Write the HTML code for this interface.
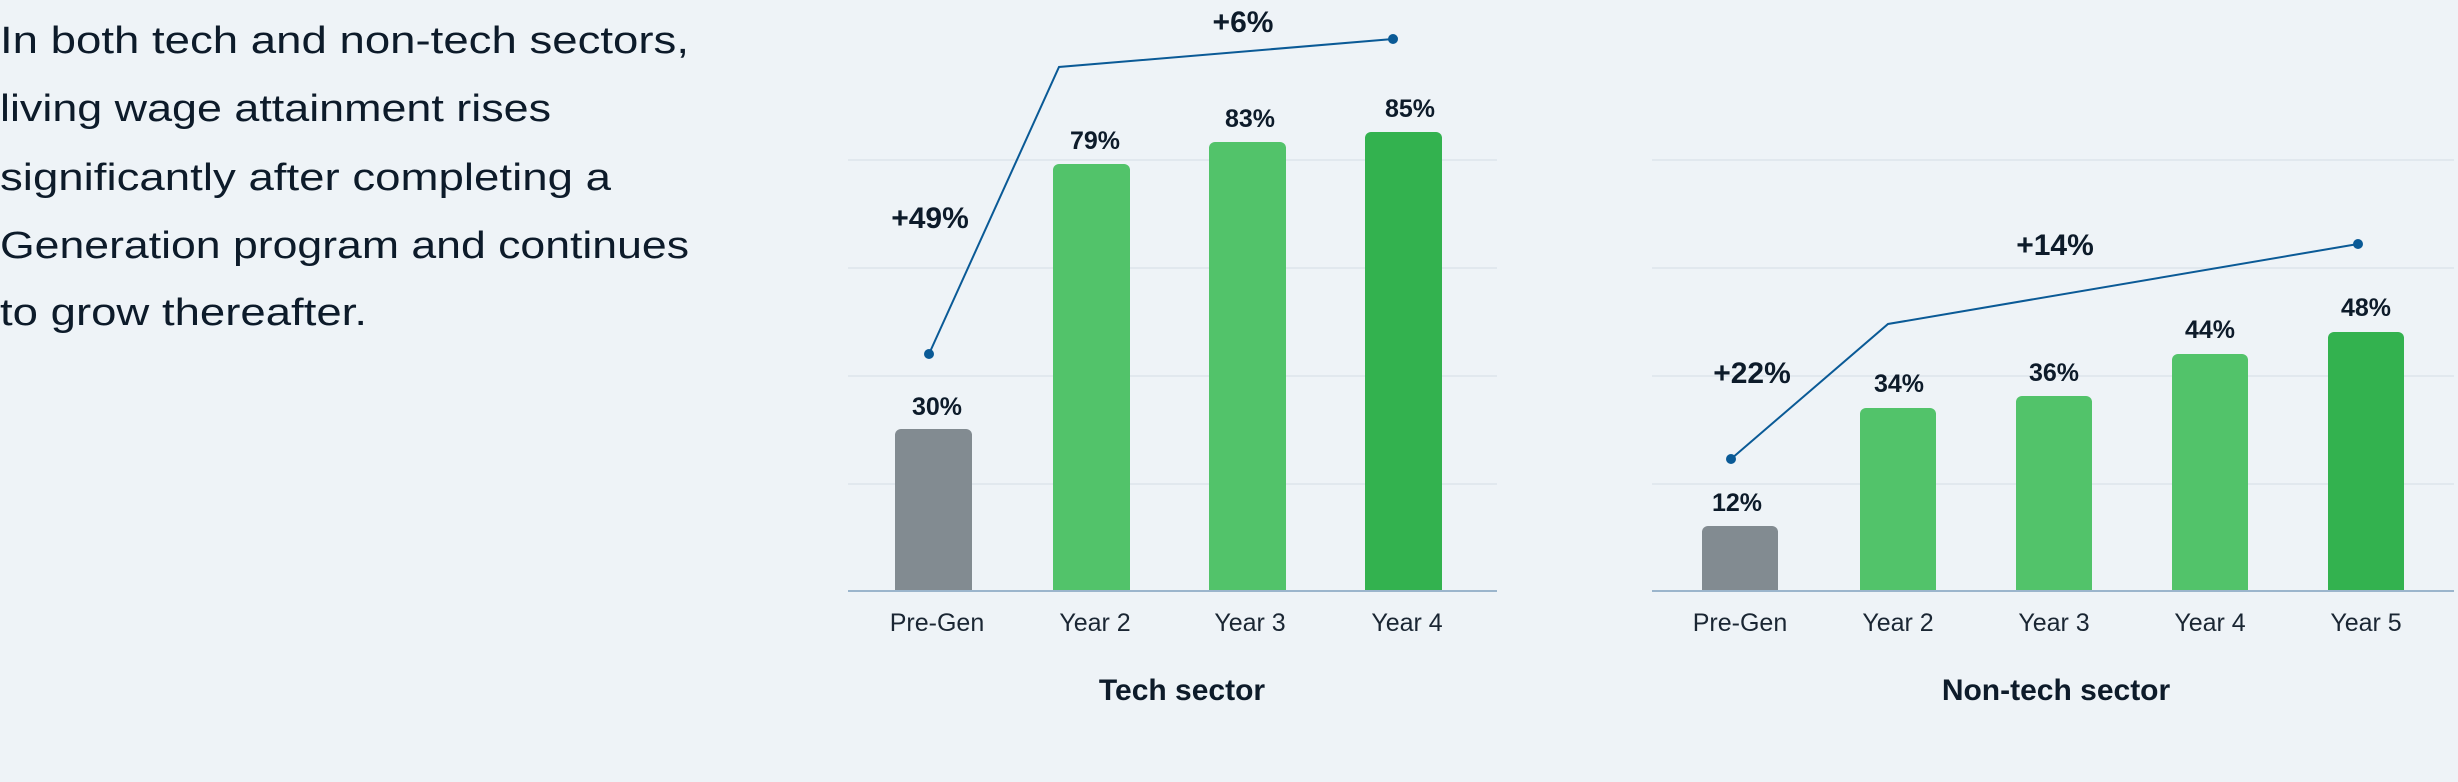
<!DOCTYPE html>
<html><head><meta charset="utf-8"><style>
html,body{margin:0;padding:0;background:#eef3f7;}
svg{display:block;}
</style></head><body>
<svg width="2458" height="782" viewBox="0 0 2458 782" xmlns="http://www.w3.org/2000/svg">
<rect width="2458" height="782" fill="#eef3f7"/>
<g font-family="Liberation Sans, sans-serif" font-size="38" fill="#0d1b2a">
<text x="0" y="53" textLength="689" lengthAdjust="spacingAndGlyphs">In both tech and non-tech sectors,</text>
<text x="0" y="121" textLength="551" lengthAdjust="spacingAndGlyphs">living wage attainment rises</text>
<text x="0" y="190" textLength="611" lengthAdjust="spacingAndGlyphs">significantly after completing a</text>
<text x="0" y="258" textLength="689" lengthAdjust="spacingAndGlyphs">Generation program and continues</text>
<text x="0" y="325" textLength="367" lengthAdjust="spacingAndGlyphs">to grow thereafter.</text>
</g>
<!-- gridlines -->
<g stroke="#e1e8ee" stroke-width="2">
<line x1="848" y1="160" x2="1497" y2="160"/><line x1="848" y1="268" x2="1497" y2="268"/>
<line x1="848" y1="376" x2="1497" y2="376"/><line x1="848" y1="484" x2="1497" y2="484"/>
<line x1="1652" y1="160" x2="2454" y2="160"/><line x1="1652" y1="268" x2="2454" y2="268"/>
<line x1="1652" y1="376" x2="2454" y2="376"/><line x1="1652" y1="484" x2="2454" y2="484"/>
</g>
<!-- tech bars -->
<path d="M895 591 V435 a6 6 0 0 1 6 -6 H966 a6 6 0 0 1 6 6 V591Z" fill="#828b91"/>
<path d="M1053 591 V170 a6 6 0 0 1 6 -6 H1124 a6 6 0 0 1 6 6 V591Z" fill="#52c36a"/>
<path d="M1209 591 V148 a6 6 0 0 1 6 -6 H1280 a6 6 0 0 1 6 6 V591Z" fill="#52c36a"/>
<path d="M1365 591 V138 a6 6 0 0 1 6 -6 H1436 a6 6 0 0 1 6 6 V591Z" fill="#33b24f"/>
<!-- non-tech bars -->
<path d="M1702 591 V532 a6 6 0 0 1 6 -6 H1772 a6 6 0 0 1 6 6 V591Z" fill="#828b91"/>
<path d="M1860 591 V414 a6 6 0 0 1 6 -6 H1930 a6 6 0 0 1 6 6 V591Z" fill="#52c36a"/>
<path d="M2016 591 V402 a6 6 0 0 1 6 -6 H2086 a6 6 0 0 1 6 6 V591Z" fill="#52c36a"/>
<path d="M2172 591 V360 a6 6 0 0 1 6 -6 H2242 a6 6 0 0 1 6 6 V591Z" fill="#52c36a"/>
<path d="M2328 591 V338 a6 6 0 0 1 6 -6 H2398 a6 6 0 0 1 6 6 V591Z" fill="#33b24f"/>
<!-- baselines -->
<line x1="848" y1="591" x2="1497" y2="591" stroke="#9bb5cc" stroke-width="2"/>
<line x1="1652" y1="591" x2="2454" y2="591" stroke="#9bb5cc" stroke-width="2"/>
<!-- lines -->
<polyline points="929,354 1059,67 1393,39" fill="none" stroke="#0a5a96" stroke-width="2"/>
<circle cx="929" cy="354" r="5" fill="#0a5a96"/><circle cx="1393" cy="39" r="5" fill="#0a5a96"/>
<polyline points="1731,459 1888,324 2358,244" fill="none" stroke="#0a5a96" stroke-width="2"/>
<circle cx="1731" cy="459" r="5" fill="#0a5a96"/><circle cx="2358" cy="244" r="5" fill="#0a5a96"/>
<!-- value labels -->
<g font-family="Liberation Sans, sans-serif" font-weight="bold" font-size="25" fill="#0d1b2a" text-anchor="middle">
<text x="937" y="415">30%</text>
<text x="1095" y="149">79%</text>
<text x="1250" y="127">83%</text>
<text x="1410" y="117">85%</text>
<text x="1737" y="511">12%</text>
<text x="1899" y="392">34%</text>
<text x="2054" y="381">36%</text>
<text x="2210" y="338">44%</text>
<text x="2366" y="316">48%</text>
</g>
<g font-family="Liberation Sans, sans-serif" font-weight="bold" font-size="30" fill="#0d1b2a" text-anchor="middle">
<text x="930" y="228">+49%</text>
<text x="1243" y="32">+6%</text>
<text x="1752" y="383">+22%</text>
<text x="2055" y="255">+14%</text>
<text x="1182" y="700">Tech sector</text>
<text x="2056" y="700">Non-tech sector</text>
</g>
<g font-family="Liberation Sans, sans-serif" font-size="25" fill="#1a2633" text-anchor="middle">
<text x="937" y="631">Pre-Gen</text>
<text x="1095" y="631">Year 2</text>
<text x="1250" y="631">Year 3</text>
<text x="1407" y="631">Year 4</text>
<text x="1740" y="631">Pre-Gen</text>
<text x="1898" y="631">Year 2</text>
<text x="2054" y="631">Year 3</text>
<text x="2210" y="631">Year 4</text>
<text x="2366" y="631">Year 5</text>
</g>
</svg>
</body></html>
